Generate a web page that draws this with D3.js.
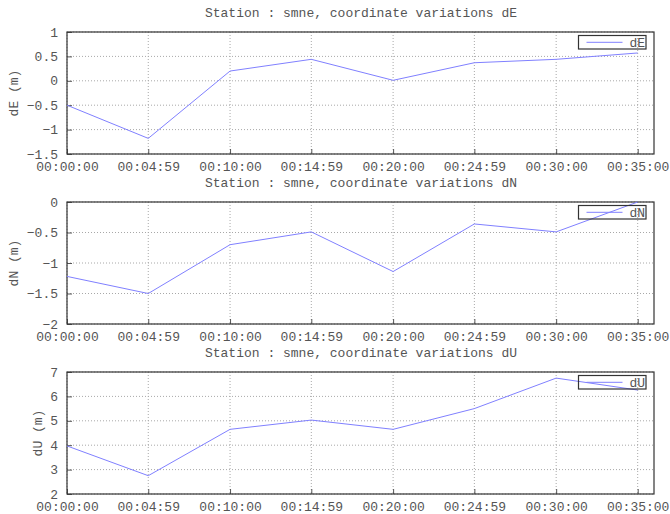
<!DOCTYPE html>
<html>
<head>
<meta charset="utf-8">
<script src="https://cdn.jsdelivr.net/npm/d3@7"></script>
<style>
  body { margin: 0; background: #fff; }
  text { font-family: "Liberation Mono", "DejaVu Sans Mono", monospace; fill: #555; }
</style>
</head>
<body>
<svg id="chart" width="670" height="514"></svg>
<script>
// epochs in seconds since start, and their printed labels
const times = [0, 299, 600, 899, 1200, 1499, 1800, 2100];
const timeLabels = ["00:00:00", "00:04:59", "00:10:00", "00:14:59", "00:20:00", "00:24:59", "00:30:00", "00:35:00"];
const station = "smne";

// coordinate variations (m)
const dE = [-0.5, -1.18, 0.2, 0.44, 0.01, 0.37, 0.44, 0.57];
const dN = [-1.22, -1.5, -0.7, -0.49, -1.14, -0.36, -0.49, 0.0];
const dU = [3.97, 2.75, 4.65, 5.03, 4.65, 5.5, 6.75, 6.26];

// y tick values per panel
const ticksE = [-1.5, -1, -0.5, 0, 0.5, 1];
const ticksN = [-2, -1.5, -1, -0.5, 0];
const ticksU = [2, 3, 4, 5, 6, 7];

const svg = d3.select("#chart");

const margin = { left: 67, right: 16 };
const plotW = 670 - margin.left - margin.right;
const plotH = 122;
const panelTops = [32, 202, 372];
const charW = 7.8;

const x = d3.scaleLinear().domain([0, 2160]).range([0, plotW]);

const drawPanel = (top, name, values, yTicks) => {
  const g = svg.append("g").attr("transform", `translate(${margin.left},${top})`);

  const y = d3.scaleLinear()
    .domain(d3.extent(yTicks))
    .range([plotH, 0]);

  // title
  svg.append("text")
    .attr("x", 361)
    .attr("y", top - 15)
    .attr("text-anchor", "middle")
    .style("font-size", "13px")
    .text(`Station : ${station}, coordinate variations ${name}`);

  // grid
  g.append("g")
    .selectAll("line")
    .data(times)
    .join("line")
    .attr("x1", (d) => x(d)).attr("x2", (d) => x(d))
    .attr("y1", 0).attr("y2", plotH)
    .attr("stroke", "#a8a8a8")
    .attr("stroke-dasharray", "1,2");

  g.append("g")
    .selectAll("line")
    .data(yTicks)
    .join("line")
    .attr("x1", 0).attr("x2", plotW)
    .attr("y1", (d) => y(d)).attr("y2", (d) => y(d))
    .attr("stroke", "#a8a8a8")
    .attr("stroke-dasharray", "1,2");

  // x axis labels
  const xAxis = d3.axisBottom(x)
    .tickValues(times)
    .tickFormat((d, i) => timeLabels[i])
    .tickSizeInner(-5)
    .tickSizeOuter(0)
    .tickPadding(8);

  const xg = g.append("g")
    .attr("transform", `translate(0,${plotH})`)
    .call(xAxis);
  xg.select(".domain").remove();
  xg.selectAll("line").attr("stroke", "#555");
  xg.selectAll("text").style("font-size", "13px").attr("fill", "#555");

  // y axis labels
  const yAxis = d3.axisLeft(y)
    .tickValues(yTicks)
    .tickFormat((d) => `${d}`.replace("-", "\u2212"))
    .tickSizeInner(-5)
    .tickSizeOuter(0)
    .tickPadding(9);

  const yg = g.append("g").call(yAxis);
  yg.select(".domain").remove();
  yg.selectAll("line").attr("stroke", "#555");
  yg.selectAll("text").style("font-size", "13px").attr("fill", "#555");

  // y label
  const maxLen = d3.max(yTicks, (d) => `${d}`.length);
  g.append("text")
    .attr("transform", `translate(${-9 - maxLen * charW - 13},${plotH / 2}) rotate(-90)`)
    .attr("text-anchor", "middle")
    .attr("dy", "0.35em")
    .style("font-size", "13px")
    .text(`${name} (m)`);

  // border
  g.append("rect")
    .attr("width", plotW)
    .attr("height", plotH)
    .attr("fill", "none")
    .attr("stroke", "#333")
    .attr("stroke-width", 1.2);

  // data
  const line = d3.line()
    .x((d, i) => x(times[i]))
    .y((d) => y(d));

  g.append("path")
    .datum(values)
    .attr("d", line)
    .attr("fill", "none")
    .attr("stroke", "#8080ff")
    .attr("stroke-width", 1);

  // legend
  const lx = 578.5 - margin.left;
  const lw = 67.5;
  g.append("rect")
    .attr("x", lx).attr("y", 3.5)
    .attr("width", lw).attr("height", 13.5)
    .attr("fill", "none")
    .attr("stroke", "#333")
    .attr("stroke-width", 1.2);
  g.append("line")
    .attr("x1", lx + 8).attr("x2", lx + 44)
    .attr("y1", 10.3).attr("y2", 10.3)
    .attr("stroke", "#8080ff");
  g.append("text")
    .attr("x", lx + lw - 1)
    .attr("y", 10.3)
    .attr("dy", "0.35em")
    .attr("text-anchor", "end")
    .style("font-size", "13px")
    .text(name);
};

drawPanel(panelTops[0], "dE", dE, ticksE);
drawPanel(panelTops[1], "dN", dN, ticksN);
drawPanel(panelTops[2], "dU", dU, ticksU);
</script>
</body>
</html>
